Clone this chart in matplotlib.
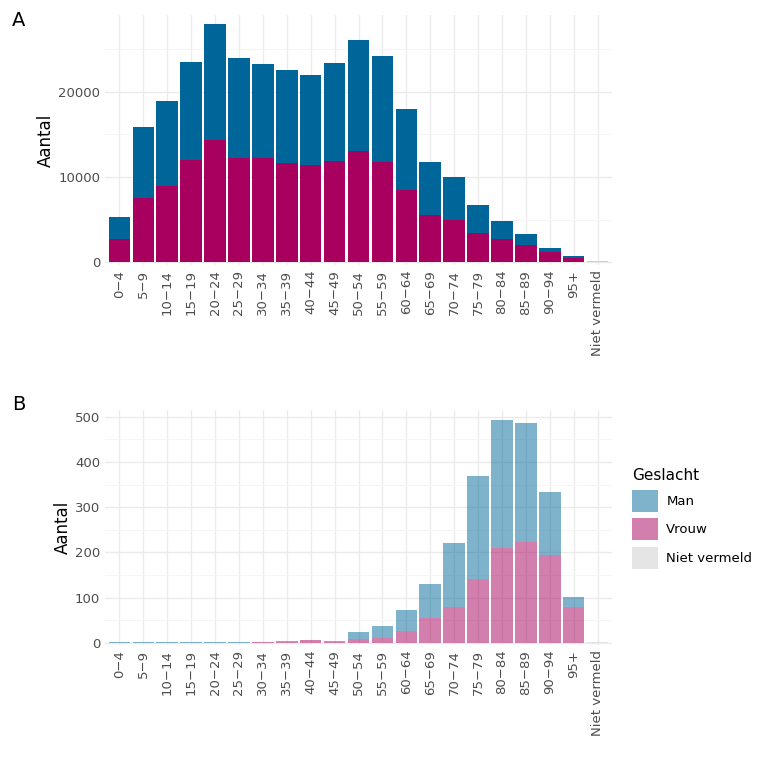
import numpy as np
from matplotlib import pyplot as plt

ages = ['0-4', '5-9', '10-14', '15-19', '20-24', '25-29', '30-34', '35-39', '40-44',
        '45-49', '50-54', '55-59', '60-64', '65-69', '70-74', '75-79', '80-84',
        '85-89', '90-94', '95+', 'Niet vermeld']
labels = [a.replace('-', '\u2212') for a in ages]

# panel A: totals and women
a_total = [5300, 15900, 18900, 23500, 28000, 24000, 23200, 22600, 22000, 23400, 26100,
           24200, 18000, 11800, 10000, 6700, 4800, 3300, 1700, 700, 0]
a_vrouw = [2700, 7600, 9000, 12000, 14300, 12200, 12200, 11700, 11400, 11900, 13100,
           11800, 8500, 5600, 5000, 3500, 2800, 2100, 1200, 550, 0]
a_niet = [0] * 20 + [120]

# panel B
b_total = [1, 1, 1, 1, 1, 1, 2, 4, 7, 4, 23, 38, 72, 130, 220, 370, 492, 487, 333, 102, 0]
b_vrouw = [0, 0, 0, 0, 0, 0, 1, 2, 5, 2, 8, 10, 27, 55, 80, 140, 210, 222, 195, 80, 0]
b_niet = [0] * 20 + [1]

BLUE = '#006699'
PINK = '#a8005e'
GREY = '#cccccc'

fig = plt.figure(figsize=(7.74, 7.81), dpi=100)
axA = fig.add_axes([105 / 774, 1 - 265 / 781, 507 / 774, 250 / 781])
axB = fig.add_axes([105 / 774, 1 - 645 / 781, 507 / 774, 235 / 781])


def panel(ax, total, vrouw, niet, alpha, ticks, tlabels):
    x = np.arange(len(ages))
    man = np.array(total) - np.array(vrouw)
    ax.bar(x, vrouw, width=0.9, color=PINK, alpha=alpha, label='Vrouw', edgecolor='none')
    ax.bar(x, man, bottom=vrouw, width=0.9, color=BLUE, alpha=alpha, label='Man', edgecolor='none')
    ax.bar(x, niet, width=0.9, color=GREY, alpha=alpha, label='Niet vermeld', edgecolor='none')
    ax.set_xlim(-0.6, len(ages) - 0.4)
    ax.set_xticks(x)
    ax.set_xticklabels(labels, rotation=90, fontsize=9.5, color='#4d4d4d')
    ax.set_yticks(ticks)
    ax.set_yticklabels(tlabels, fontsize=9.5, color='#4d4d4d')
    ax.set_ylabel('Aantal', fontsize=12, labelpad=2)
    ax.grid(True, color='#ebebeb', lw=1)
    ax.set_axisbelow(True)
    for s in ax.spines.values():
        s.set_visible(False)
    ax.tick_params(which='both', length=0)
    return ax


panel(axA, a_total, a_vrouw, a_niet, 1.0, [0, 10000, 20000], ['0', '10000', '20000'])
axA.set_ylim(-300, 29000)
axA.set_yticks([5000, 15000, 25000], minor=True)
axA.grid(True, which='minor', color='#f4f4f4', lw=0.6)

panel(axB, b_total, b_vrouw, b_niet, 0.5, range(0, 501, 100), [str(v) for v in range(0, 501, 100)])
axB.set_ylim(-5, 515)
axB.set_yticks(range(50, 501, 100), minor=True)
axB.grid(True, which='minor', color='#f4f4f4', lw=0.6)

h, l = axB.get_legend_handles_labels()
order = [1, 0, 2]
fig.legend([h[i] for i in order], [l[i] for i in order], title='Geslacht',
           loc='upper left', bbox_to_anchor=(632 / 774, 1 - 468 / 781), frameon=False,
           fontsize=9.5, title_fontsize=11, handlelength=2, handleheight=2.2,
           handletextpad=0.6, borderaxespad=0, borderpad=0, alignment='left')

fig.text(12 / 774, 1 - 20 / 781, 'A', fontsize=14, va='center')
fig.text(12 / 774, 1 - 405 / 781, 'B', fontsize=14, va='center')

fig.savefig('out.png', dpi=100)
